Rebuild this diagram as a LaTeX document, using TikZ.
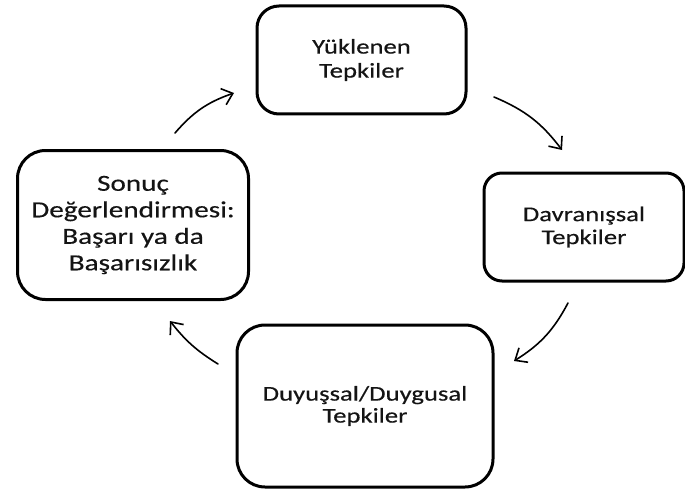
\documentclass[tikz,border=0pt]{standalone}
\usepackage{fontspec}
\setmainfont[FakeStretch=1.27,FakeBold=0.4]{Carlito}
\usetikzlibrary{arrows.meta}
\begin{document}
\begin{tikzpicture}[x=1pt,y=-1pt,
  box/.style={draw=black, line width=3pt, rounded corners=#1, align=center,
    text=black!92, inner sep=0pt},
  flow/.style={line width=1.6pt, line cap=round,
    -{Straight Barb[length=10pt,width=17pt,line width=1.6pt]}}]
\useasboundingbox (0,0) rectangle (685,492);
\node[box=22pt, minimum width=209pt, minimum height=108pt,
  font=\fontsize{21}{24}\selectfont] (t) at (361.5,60) {Yüklenen\\Tepkiler};
\node[box=28pt, minimum width=231pt, minimum height=149pt,
  font=\fontsize{23}{26.5}\selectfont] (l) at (133,225) {Sonuç\\Değerlendirmesi:\\Başarı ya da\\Başarısızlık};
\node[box=18pt, minimum width=200pt, minimum height=108pt,
  font=\fontsize{21}{23}\selectfont] (r) at (584,227) {Davranışsal\\Tepkiler};
\node[box=28pt, minimum width=256pt, minimum height=162pt,
  font=\fontsize{21}{22}\selectfont] (b) at (365,406) {Duyuşsal/Duygusal\\Tepkiler};
\coordinate (a1s) at (175,133);
\coordinate (a1e) at (234,93);
\coordinate (a2s) at (494,97);
\coordinate (a2e) at (562,150);
\coordinate (a3s) at (568,303);
\coordinate (a3e) at (514,361);
\coordinate (a4s) at (218,364);
\coordinate (a4e) at (170,321);
\draw[flow] (a1s) to[bend left=15] (a1e);
\draw[flow] (a2s) to[bend left=15] (a2e);
\draw[flow] (a3s) to[bend left=15] (a3e);
\draw[flow] (a4s) to[bend left=10] (a4e);
\end{tikzpicture}
\end{document}
